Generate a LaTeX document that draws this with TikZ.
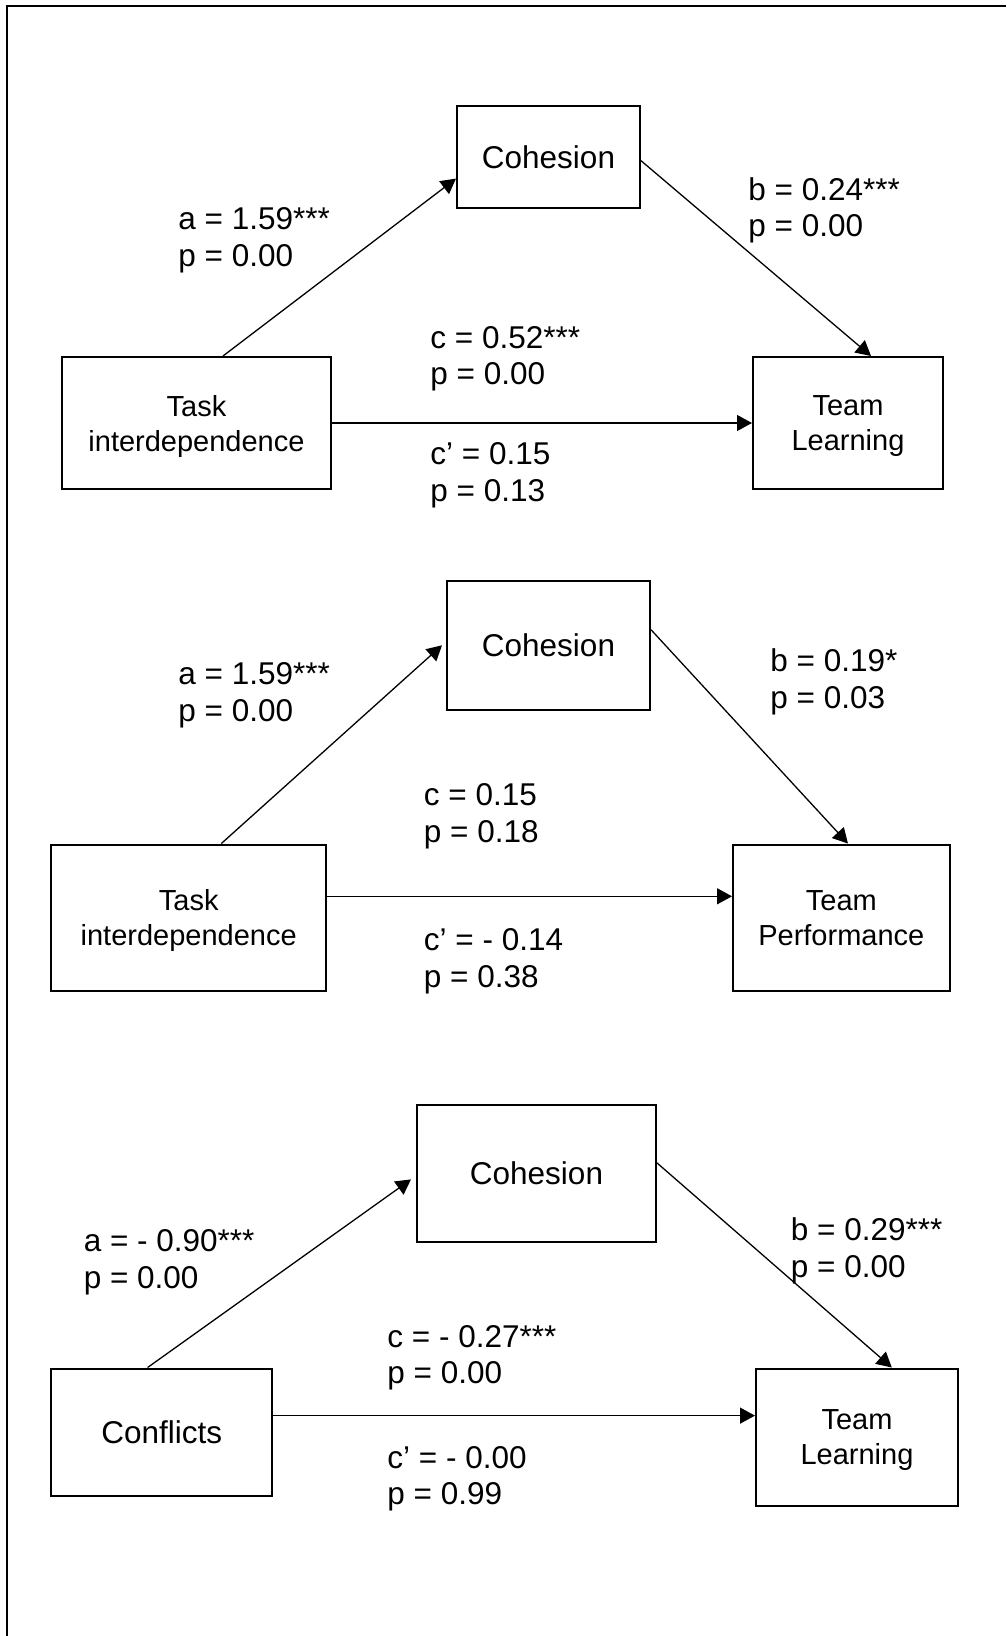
\documentclass[tikz,border=0pt]{standalone}
\usepackage{fontspec}
\setmainfont{Liberation Sans}
\usetikzlibrary{arrows.meta}
\newcommand\lbfont{\fontsize{15.75pt}{18.35pt}\selectfont}
\newcommand\bxfont{\fontsize{15.75pt}{17.5pt}\selectfont}
\newcommand\mbxfont{\fontsize{14.5pt}{17.5pt}\selectfont}
\begin{document}
\begin{tikzpicture}[x=0.5pt,y=-0.5pt,
 box/.style={draw,line width=1pt,inner sep=0pt,align=center,font=\bxfont},
 mbox/.style={box,font=\mbxfont,text depth=0pt},
 arr/.style={-{Triangle[length=7.5pt,width=8pt]},line width=0.65pt},
 lab/.style={anchor=base west,inner sep=0pt,font=\lbfont}]
\useasboundingbox (0,0) rectangle (1006,1636);
\draw[line width=1pt] (1006,6) -- (7,6) -- (7,1636);

% ---------- diagram 1
\node[box,minimum width=91.5pt,minimum height=51pt] (c1) at (548.5,157) {Cohesion};
\node[mbox,minimum width=134.5pt,minimum height=66pt] (t1) at (196.5,423) {Task\\interdependence};
\node[mbox,minimum width=95pt,minimum height=66pt] (l1) at (848,423) {Team\\Learning};
\draw[arr] ([xshift=13.25pt]t1.north) -- ([yshift=-10.8pt]c1.west);
\draw[arr] ([yshift=-1.85pt]c1.east) -- ([xshift=11.5pt]l1.north);
\draw[arr] (t1.east) -- (l1.west);
\node[lab] (a1) at (178,230) {a = 1.59***};
\node[lab] (pa1) at (178,267) {p = 0.00};
\node[lab] (b1) at (748,201) {b = 0.24***};
\node[lab] (pb1) at (748,237) {p = 0.00};
\node[lab] (cc1) at (430,349) {c = 0.52***};
\node[lab] (pc1) at (430,385) {p = 0.00};
\node[lab] (cp1) at (430,465) {c’ = 0.15};
\node[lab] (pcp1) at (430,502) {p = 0.13};

% ---------- diagram 2
\node[box,minimum width=101.5pt,minimum height=64.7pt] (c2) at (548.5,645.3) {Cohesion};
\node[mbox,minimum width=137.5pt,minimum height=73.25pt] (t2) at (188.7,917.8) {Task\\interdependence};
\node[mbox,minimum width=108.3pt,minimum height=73.25pt] (p2) at (841.3,917.8) {Team\\Performance};
\draw[arr] ([xshift=16.3pt]t2.north) -- ([xshift=-2pt]c2.west);
\draw[arr] ([yshift=7.8pt]c2.east) -- ([xshift=3.35pt]p2.north);
\draw[arr] ([yshift=10.75pt]t2.east) -- ([yshift=10.75pt]p2.west);
\node[lab] (a2) at (178,684) {a = 1.59***};
\node[lab] (pa2) at (178,721) {p = 0.00};
\node[lab] (b2) at (770,671) {b = 0.19*};
\node[lab] (pb2) at (770,708) {p = 0.03};
\node[lab] (cc2) at (423.5,805) {c = 0.15};
\node[lab] (pc2) at (423.5,842) {p = 0.18};
\node[lab] (cp2) at (423.5,950) {c’ = - 0.14};
\node[lab] (pcp2) at (423.5,987) {p = 0.38};

% ---------- diagram 3
\node[box,minimum width=119.5pt,minimum height=68.5pt] (c3) at (536.5,1173.5) {Cohesion};
\node[box,minimum width=110.35pt,minimum height=63.5pt] (f3) at (161.7,1432) {Conflicts};
\node[mbox,minimum width=101pt,minimum height=68.5pt] (l3) at (857,1437) {Team\\Learning};
\draw[arr] ([xshift=-7.05pt]f3.north) -- ([xshift=-2.5pt,yshift=-2.95pt]c3.west);
\draw[arr] ([yshift=5.3pt]c3.east) -- ([xshift=17.4pt]l3.north);
\draw[arr] ([yshift=8.2pt]f3.east) -- ([yshift=10.7pt]l3.west);
\node[lab] (a3) at (83.4,1251) {a = - 0.90***};
\node[lab] (pa3) at (83.4,1288) {p = 0.00};
\node[lab] (b3) at (790.5,1240) {b = 0.29***};
\node[lab] (pb3) at (790.5,1277) {p = 0.00};
\node[lab] (cc3) at (387,1347) {c = - 0.27***};
\node[lab] (pc3) at (387,1383) {p = 0.00};
\node[lab] (cp3) at (387,1468) {c’ = - 0.00};
\node[lab] (pcp3) at (387,1504.5) {p = 0.99};
\end{tikzpicture}
\end{document}
